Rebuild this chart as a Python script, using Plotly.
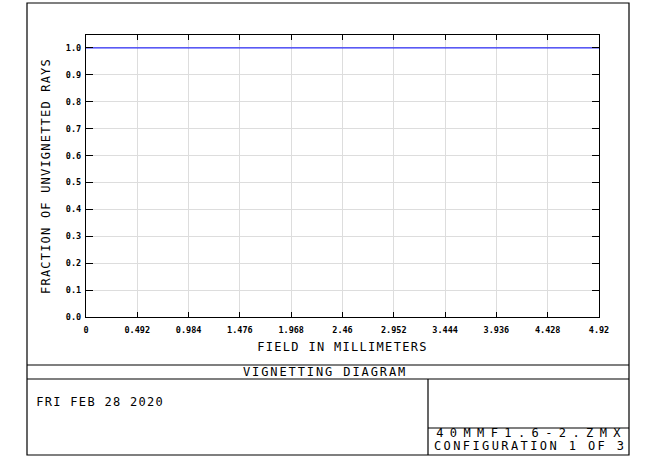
import json
import plotly.graph_objects as go

# data
field_mm = [0, 0.492, 0.984, 1.476, 1.968, 2.46, 2.952, 3.444, 3.936, 4.428, 4.92]
fraction = [1.0, 1.0, 1.0, 1.0, 1.0, 1.0, 1.0, 1.0, 1.0, 1.0, 1.0]
x_ticks = [0, 0.492, 0.984, 1.476, 1.968, 2.46, 2.952, 3.444, 3.936, 4.428, 4.92]
x_labels = ['0', '0.492', '0.984', '1.476', '1.968', '2.46', '2.952', '3.444', '3.936', '4.428', '4.92']
y_ticks = [0.0, 0.1, 0.2, 0.3, 0.4, 0.5, 0.6, 0.7, 0.8, 0.9, 1.0]

W, H = 669, 470
L, R, T, B = 86, 599, 35, 317   # plot area in pixels

def px(x):
    return (x - L) / (R - L)

def py(y):
    return (B - y) / (B - T)

tick_font = dict(family='DejaVu Sans Mono', size=8.5, color='black', weight='bold')
label_font = dict(family='DejaVu Sans Mono', size=12, color='black')

# letter spacing (px) to mimic the wide plotter font
spacing = {
    'FIELD IN MILLIMETERS': 1.3,
    'FRACTION OF UNVIGNETTED RAYS': 1.2,
    'VIGNETTING DIAGRAM': 1.9,
    'FRI FEB 28 2020': 1.3,
    '40MMF1.6-2.ZMX': 6.4,
    'CONFIGURATION 1 OF 3': 2.4,
}

fig = go.Figure()
fig.add_scatter(x=field_mm, y=fraction, mode='lines',
                line=dict(color='#0000ff', width=1), showlegend=False)

fig.update_xaxes(range=[0, 4.92], tickvals=x_ticks, ticktext=x_labels,
                 ticks='inside', ticklen=5, tickcolor='black', mirror='ticks',
                 showline=True, linecolor='black', linewidth=1.2,
                 showgrid=True, gridcolor='#dddddd', gridwidth=1,
                 zeroline=False, tickfont=tick_font, ticklabelstandoff=5,
                 title=dict(text='FIELD IN MILLIMETERS', font=label_font, standoff=8))
fig.update_yaxes(range=[0, 1.048], tickvals=y_ticks, tickformat='.1f',
                 ticks='inside', ticklen=7, tickcolor='black', mirror='ticks',
                 showline=True, linecolor='black', linewidth=1.2,
                 showgrid=True, gridcolor='#dddddd', gridwidth=1,
                 zeroline=False, tickfont=tick_font, ticklabelstandoff=2,
                 title=dict(text='FRACTION OF UNVIGNETTED RAYS', font=label_font, standoff=12))

# frame and title block
line = dict(color='black', width=1.2)
shapes = [
    dict(type='rect', x0=px(27), x1=px(629), y0=py(3), y1=py(455)),
    dict(type='line', x0=px(27), x1=px(629), y0=py(365), y1=py(365)),
    dict(type='line', x0=px(27), x1=px(629), y0=py(379), y1=py(379)),
    dict(type='line', x0=px(428), x1=px(428), y0=py(379), y1=py(455)),
    dict(type='line', x0=px(428), x1=px(629), y0=py(428), y1=py(428)),
]
for s in shapes:
    s.update(xref='paper', yref='paper', line=line)

# text centres in pixels
texts = [
    ('VIGNETTING DIAGRAM', 324, 372),
    ('FRI FEB 28 2020', 99, 402),
    ('40MMF1.6-2.ZMX', 529, 433),
    ('CONFIGURATION 1 OF 3', 529, 446),
]
annotations = [dict(text=t, x=px(x + spacing[t] / 2), y=py(y), xref='paper', yref='paper',
                    xanchor='center', yanchor='middle', showarrow=False, font=label_font)
               for t, x, y in texts]

fig.update_layout(width=W, height=H, plot_bgcolor='white', paper_bgcolor='white',
                  margin=dict(l=L, r=W - R, t=T, b=H - B),
                  shapes=shapes, annotations=annotations)

post = """
document.body.style.margin = '0';
var sp = %s;
document.querySelectorAll('text').forEach(function(t) {
    var s = sp[t.textContent];
    if (s !== undefined) { t.style.letterSpacing = s + 'px'; }
});
""" % json.dumps(spacing)

fig.write_html('out.html', post_script=post, config={'displayModeBar': False})
